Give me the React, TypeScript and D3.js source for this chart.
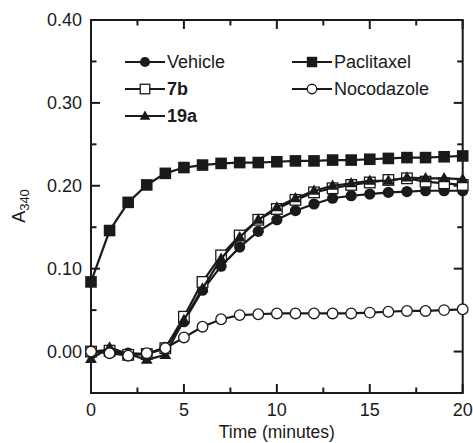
import React from "react";
import * as d3 from "d3";

const times = d3.range(0, 21);
const vehicle = [0.0, 0.002, -0.002, -0.003, 0.005, 0.036, 0.074, 0.103, 0.126, 0.145, 0.159, 0.17, 0.178, 0.185, 0.188, 0.19, 0.192, 0.193, 0.194, 0.194, 0.194];
const paclitaxel = [0.084, 0.146, 0.18, 0.201, 0.215, 0.222, 0.225, 0.227, 0.228, 0.228, 0.229, 0.23, 0.23, 0.231, 0.231, 0.232, 0.233, 0.234, 0.234, 0.235, 0.236];
const c7b = [0.0, 0.001, -0.004, -0.003, 0.004, 0.042, 0.084, 0.116, 0.14, 0.159, 0.172, 0.183, 0.192, 0.197, 0.201, 0.204, 0.207, 0.209, 0.205, 0.203, 0.201];
const c19a = [-0.009, 0.005, -0.003, -0.01, -0.004, 0.038, 0.076, 0.112, 0.138, 0.159, 0.174, 0.185, 0.194, 0.2, 0.203, 0.206, 0.206, 0.21, 0.209, 0.209, 0.208];
const nocodazole = [0.0, -0.002, -0.005, -0.002, 0.004, 0.017, 0.03, 0.039, 0.044, 0.045, 0.046, 0.046, 0.046, 0.046, 0.046, 0.047, 0.048, 0.049, 0.049, 0.05, 0.051];

const xTicks = [0, 5, 10, 15, 20];
const xMinor = [2.5, 7.5, 12.5, 17.5];
const yTicks = [0, 0.1, 0.2, 0.3, 0.4];
const yMinor = [-0.05, 0.05, 0.15, 0.25, 0.35];

const W = 473, H = 443;
const L = 91, R = 462.7, T = 20, B = 393;
const x = d3.scaleLinear().domain([0, 20]).range([L, R]);
const y = d3.scaleLinear().domain([-0.05, 0.4]).range([B, T]);
const INK = "#1a1a1a";
const FONT = "'Liberation Sans', Arial, sans-serif";

type Kind = "circle" | "square" | "opensquare" | "triangle" | "opencircle";

function Marker({ kind, cx, cy, s = 1 }: { kind: Kind; cx: number; cy: number; s?: number }) {
  if (kind === "circle") return <circle cx={cx} cy={cy} r={5.6 * s} fill={INK} />;
  if (kind === "opencircle") return <circle cx={cx} cy={cy} r={5.3 * s} fill="#fff" stroke={INK} strokeWidth={1.3} />;
  if (kind === "square") { const h = 5.8 * s; return <rect x={cx - h} y={cy - h} width={2 * h} height={2 * h} fill={INK} />; }
  if (kind === "opensquare") { const h = 5.3 * s; return <rect x={cx - h} y={cy - h} width={2 * h} height={2 * h} fill="#fff" stroke={INK} strokeWidth={1.3} />; }
  const r = 6.2 * s;
  return <path d={`M${cx},${cy - r}L${cx + r * 0.95},${cy + r * 0.65}L${cx - r * 0.95},${cy + r * 0.65}Z`} fill={INK} />;
}

const series: { name: string; vals: number[]; kind: Kind; bold: boolean; lx: number; ly: number }[] = [
  { name: "Paclitaxel", vals: paclitaxel, kind: "square", bold: false, lx: 292, ly: 62 },
  { name: "Vehicle", vals: vehicle, kind: "circle", bold: false, lx: 125, ly: 62 },
  { name: "7b", vals: c7b, kind: "opensquare", bold: true, lx: 125, ly: 89 },
  { name: "19a", vals: c19a, kind: "triangle", bold: true, lx: 125, ly: 116 },
  { name: "Nocodazole", vals: nocodazole, kind: "opencircle", bold: false, lx: 292, ly: 89 },
];

export default function App() {
  const line = d3.line<number>().x((_, i) => x(times[i])).y((v) => y(v));
  return (
    <svg width={W} height={H} style={{ position: "absolute", left: 0, top: 0 }} fontFamily={FONT}>
      <rect width={W} height={H} fill="#fff" />
      {xTicks.map((t) => (
        <g key={"xt" + t}>
          <line x1={x(t)} x2={x(t)} y1={B} y2={B - 9} stroke={INK} strokeWidth={2} />
          <line x1={x(t)} x2={x(t)} y1={T} y2={T + 9} stroke={INK} strokeWidth={2} />
          <text x={x(t)} y={416} textAnchor="middle" fontSize={18} fill={INK}>{t}</text>
        </g>
      ))}
      {xMinor.map((t) => (
        <g key={"xm" + t}>
          <line x1={x(t)} x2={x(t)} y1={B} y2={B - 5.5} stroke={INK} strokeWidth={2} />
          <line x1={x(t)} x2={x(t)} y1={T} y2={T + 5.5} stroke={INK} strokeWidth={2} />
        </g>
      ))}
      {yTicks.map((t) => (
        <g key={"yt" + t}>
          <line x1={L} x2={L + 9} y1={y(t)} y2={y(t)} stroke={INK} strokeWidth={2} />
          <line x1={R} x2={R - 9} y1={y(t)} y2={y(t)} stroke={INK} strokeWidth={2} />
          <text x={82} y={y(t)} dy="0.36em" textAnchor="end" fontSize={18} fill={INK}>{t.toFixed(2)}</text>
        </g>
      ))}
      {yMinor.map((t) => (
        <g key={"ym" + t}>
          <line x1={L} x2={L + 5.5} y1={y(t)} y2={y(t)} stroke={INK} strokeWidth={2} />
          <line x1={R} x2={R - 5.5} y1={y(t)} y2={y(t)} stroke={INK} strokeWidth={2} />
        </g>
      ))}
      <rect x={L} y={T} width={R - L} height={B - T} fill="none" stroke={INK} strokeWidth={2} />
      <text x={(L + R) / 2} y={438} textAnchor="middle" fontSize={17.5} fill={INK}>Time (minutes)</text>
      <text transform="translate(25,206) rotate(-90)" textAnchor="middle" fontSize={18} fill={INK}>
        A<tspan fontSize={13} dy={4}>340</tspan>
      </text>
      {series.map((s) => (
        <g key={s.name}>
          <path d={line(s.vals) || ""} fill="none" stroke={INK} strokeWidth={2.2} />
          {s.vals.map((v, i) => (
            <Marker key={i} kind={s.kind} cx={x(times[i])} cy={y(v)} />
          ))}
        </g>
      ))}
      {series.map((s) => (
        <g key={"lg" + s.name}>
          <line x1={s.lx} x2={s.lx + 40} y1={s.ly} y2={s.ly} stroke={INK} strokeWidth={2.2} />
          <Marker kind={s.kind} cx={s.lx + 20} cy={s.ly} s={0.9} />
          <text x={s.lx + 42} y={s.ly} dy="0.36em" fontSize={18} fontWeight={s.bold ? "bold" : "normal"} fill={INK}>{s.name}</text>
        </g>
      ))}
    </svg>
  );
}
